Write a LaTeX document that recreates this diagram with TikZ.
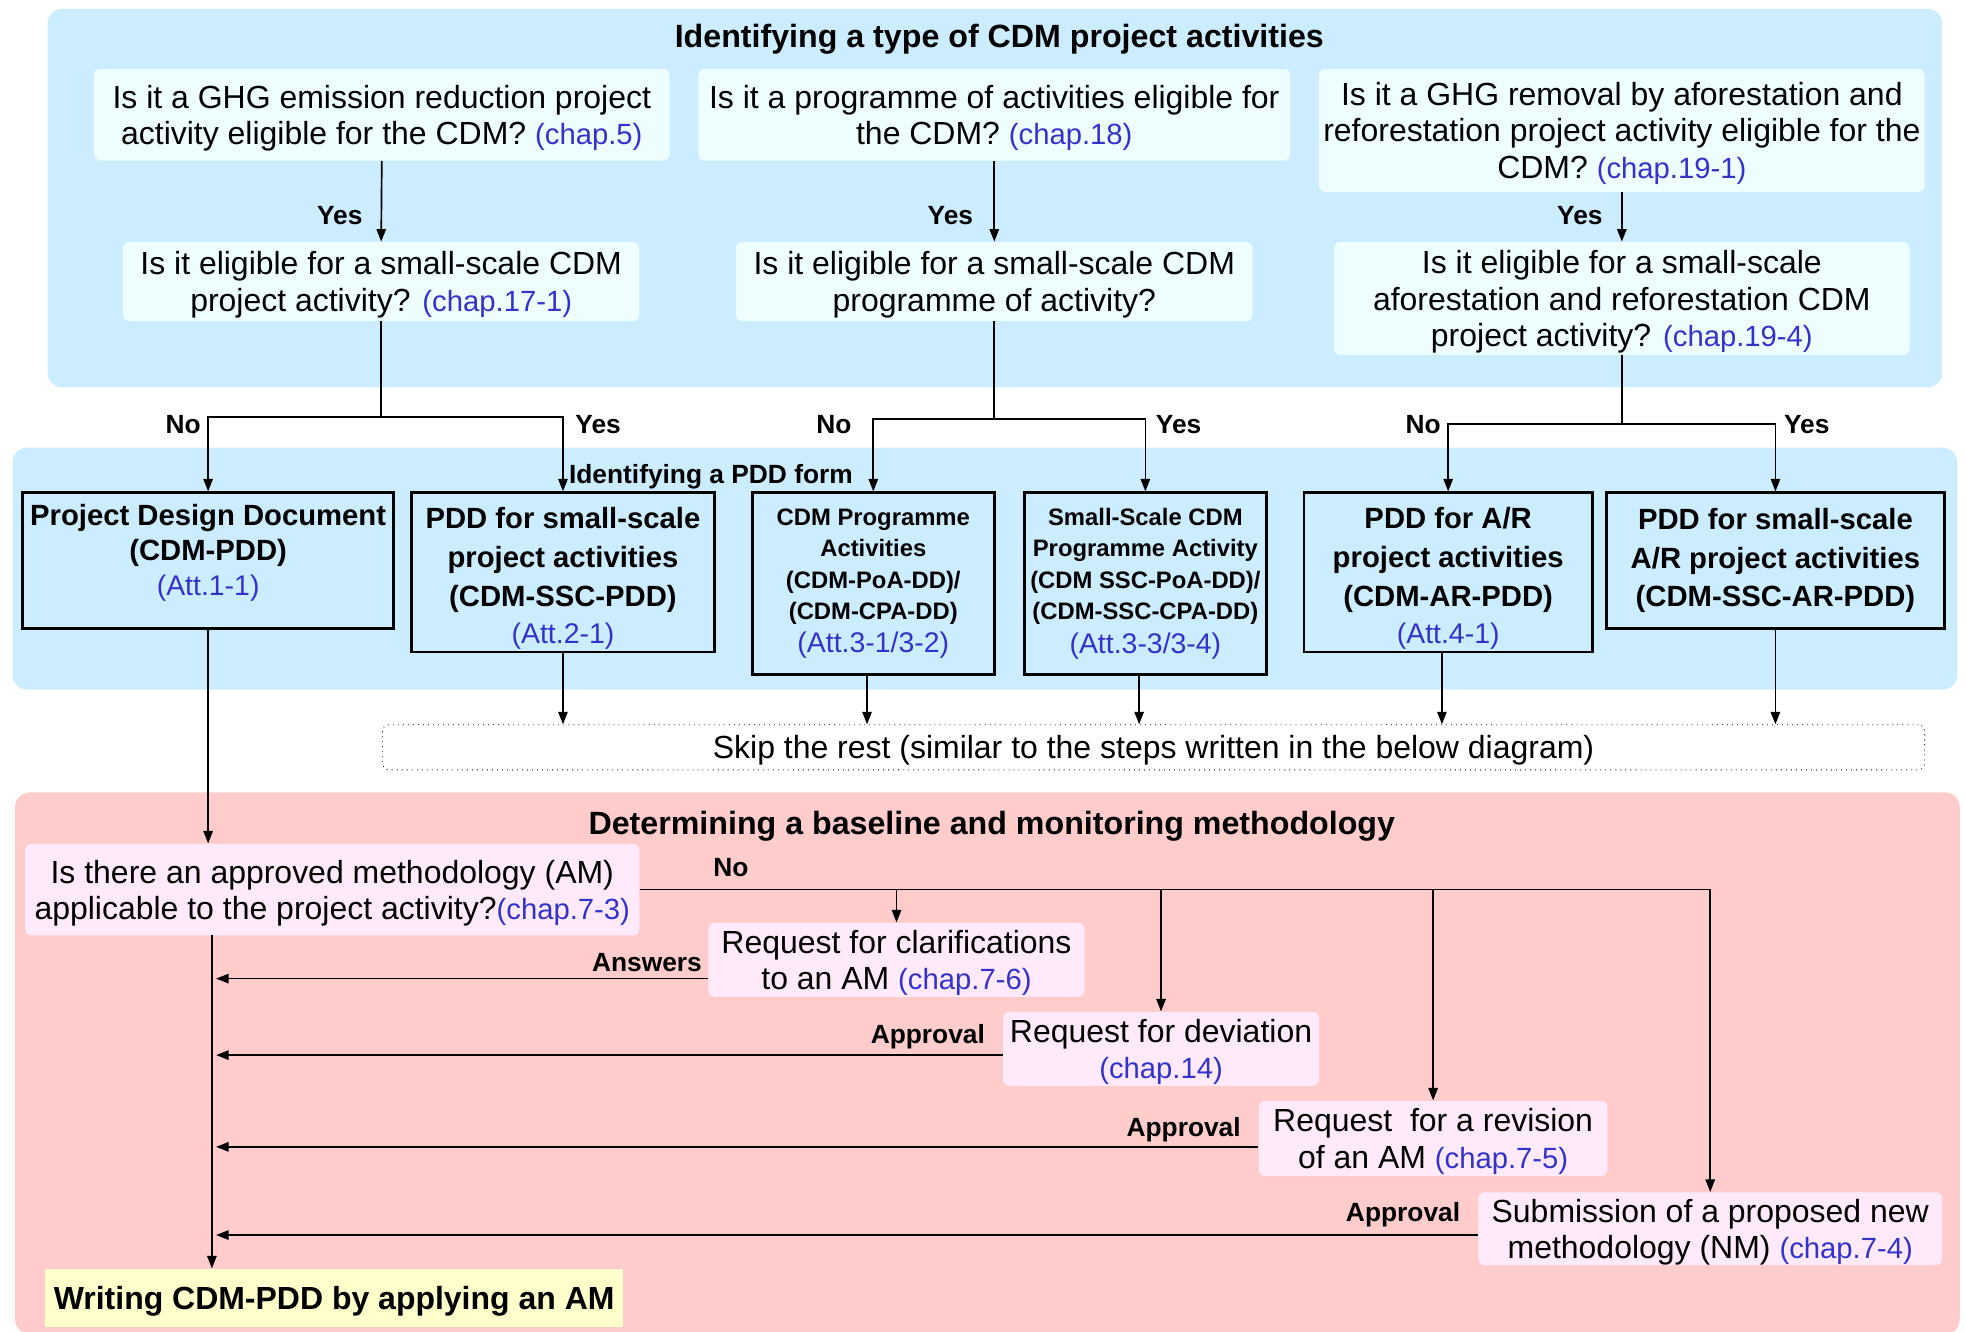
\documentclass[tikz,border=0pt]{standalone}
\usepackage{fontspec}
\setmainfont{Liberation Sans}
\usetikzlibrary{arrows.meta}
\definecolor{bandblue}{RGB}{204,236,255}
\definecolor{qcyan}{RGB}{238,254,255}
\definecolor{bandpink}{RGB}{255,204,204}
\definecolor{qpink}{RGB}{255,234,252}
\definecolor{wyellow}{RGB}{255,255,204}
\definecolor{chapblue}{RGB}{51,51,204}
\newcommand{\ch}[1]{{\fontsize{14}{17.4}\selectfont\color{chapblue}#1}}
\newcommand{\att}[1]{{\mdseries\fontsize{13.6}{16}\selectfont\color{chapblue}#1}}
\begin{document}
\begin{tikzpicture}[x=0.6pt, y=-0.6pt,
	arr/.style={line width=0.8pt, -{Triangle[length=6pt,width=4.5pt]}},
	ln/.style={line width=0.8pt},
	qbox/.style={fill=qcyan, rounded corners=3pt, inner sep=1pt, text depth=0pt, align=center, font=\fontsize{15.3}{17.4}\selectfont},
	mbox/.style={fill=qpink, rounded corners=3pt, inner sep=1pt, text depth=0pt, align=center, font=\fontsize{15.3}{17.4}\selectfont},
	formbox/.style={draw, line width=1.3pt, inner sep=1pt, align=center},
	lbl/.style={font=\bfseries\fontsize{12.6}{14}\selectfont, inner sep=0pt},
	head/.style={font=\bfseries\fontsize{15.4}{17}\selectfont, inner sep=0pt}]
	\useasboundingbox (0,0) rectangle (1568,1062);
	\clip (0,0) rectangle (1568,1062);
	% backgrounds
	\fill[bandblue, rounded corners=7pt] (38,7) rectangle (1549,309);
	\fill[bandblue, rounded corners=7pt] (10,357) rectangle (1561,550);
	\fill[bandpink, rounded corners=7pt] (12,632) rectangle (1563,1064);
	\node[head] (t1) at (797,31) {Identifying a type of CDM project activities};
	\node[qbox, minimum width=275.4pt, minimum height=43.8pt] (q1) at (304.5,91.5) {Is it a GHG emission reduction project\\ activity eligible for the CDM? \ch{(chap.5)}};
	\node[qbox, minimum width=283.2pt, minimum height=43.8pt] (q2) at (793,91.5) {Is it a programme of activities eligible for\\ the CDM? \ch{(chap.18)}};
	\node[qbox, minimum width=289.8pt, minimum height=58.8pt] (q3) at (1293.5,104) {Is it a GHG removal by aforestation and\\ reforestation project activity eligible for the\\ CDM? \ch{(chap.19-1)}};
	\node[qbox, minimum width=247.2pt, minimum height=37.8pt] (q1b) at (304,224.5) {Is it eligible for a small-scale CDM\\ project activity? \ch{(chap.17-1)}};
	\node[qbox, minimum width=247.2pt, minimum height=37.8pt] (q2b) at (793,224.5) {Is it eligible for a small-scale CDM\\ programme of activity?};
	\node[qbox, minimum width=275.4pt, minimum height=54pt] (q3b) at (1293.5,238) {Is it eligible for a small-scale\\ aforestation and reforestation CDM\\ project activity? \ch{(chap.19-4)}};
	\draw[arr] (q1.south) -- (q1b.north);
	\draw[arr] (q2.south) -- (q2b.north);
	\draw[arr] (q3.south) -- (q3b.north);
	\node[lbl] (yes1) at (271,172) {Yes};
	\node[lbl] (yes2) at (758,172) {Yes};
	\node[lbl] (yes3) at (1260,172) {Yes};
	% PDD forms
	\node[lbl] (t2) at (567,380) {Identifying a PDD form};
	\node[formbox, minimum width=177.6pt, minimum height=64.8pt, font=\bfseries\fontsize{14}{16.8}\selectfont] (b1) at (166,447) {Project Design Document\\ (CDM-PDD)\\ \att{(Att.1-1)}\rule[-10pt]{0pt}{0pt}};
	\node[formbox, minimum width=145.2pt, minimum height=76.2pt, font=\bfseries\fontsize{14}{18.6}\selectfont] (b2) at (449,456.5) {\rule{0pt}{16pt}PDD for small-scale\\ project activities\\ (CDM-SSC-PDD)\\[-1pt] \att{(Att.2-1)}};
	\node[formbox, minimum width=115.8pt, minimum height=87pt, font=\bfseries\fontsize{11.4}{15}\selectfont] (b3) at (696.5,465.5) {CDM Programme\\ Activities\\ (CDM-PoA-DD)/\\ (CDM-CPA-DD)\\[1pt] \att{(Att.3-1/3-2)}};
	\node[formbox, minimum width=115.8pt, minimum height=87pt, font=\bfseries\fontsize{11.4}{15}\selectfont] (b4) at (913.5,465.5) {Small-Scale CDM\\ Programme Activity\\ (CDM SSC-PoA-DD)/\\ (CDM-SSC-CPA-DD)\\[1pt] \att{(Att.3-3/3-4)}};
	\node[formbox, minimum width=138pt, minimum height=76.2pt, font=\bfseries\fontsize{14}{18.6}\selectfont] (b5) at (1155,456.5) {\rule{0pt}{16pt}PDD for A/R\\ project activities\\ (CDM-AR-PDD)\\[-1pt] \att{(Att.4-1)}};
	\node[formbox, minimum width=162pt, minimum height=64.8pt, font=\bfseries\fontsize{14}{18.6}\selectfont] (b6) at (1416,447) {PDD for small-scale\\ A/R project activities\\ (CDM-SSC-AR-PDD)};
	\draw[arr] (q1b.south) -- ++(0,76) -| (b1.north);
	\draw[arr] (q1b.south) -- ++(0,76) -| (b2.north);
	\draw[arr] (q2b.south) -- ++(0,78) -| (b3.north);
	\draw[arr] (q2b.south) -- ++(0,78) -| (b4.north);
	\draw[arr] (q3b.south) -- ++(0,55) -| (b5.north);
	\draw[arr] (q3b.south) -- ++(0,55) -| (b6.north);
	\node[lbl] (no1) at (146,339) {No};
	\node[lbl] (yes4) at (477,339) {Yes};
	\node[lbl] (no2) at (665,339) {No};
	\node[lbl] (yes5) at (940,339) {Yes};
	\node[lbl] (no3) at (1135,339) {No};
	\node[lbl] (yes6) at (1441,339) {Yes};
	\node[draw, dotted, fill=white, rounded corners=3pt, text depth=0pt, minimum width=738pt, minimum height=21.6pt, font=\fontsize{15.3}{17.4}\selectfont] (skip) at (920,596) {Skip the rest (similar to the steps written in the below diagram)};
	\draw[arr] (b2.south) -- (b2.south |- skip.north);
	\draw[arr] ([xshift=-3pt]b3.south) -- ([xshift=-3pt]b3.south |- skip.north);
	\draw[arr] ([xshift=-3pt]b4.south) -- ([xshift=-3pt]b4.south |- skip.north);
	\draw[arr] ([xshift=-3pt]b5.south) -- ([xshift=-3pt]b5.south |- skip.north);
	\draw[arr] (b6.south) -- (b6.south |- skip.north);
	% methodology
	\node[head] (t3) at (791,659) {Determining a baseline and monitoring methodology};
	\node[mbox, minimum width=294pt, minimum height=43.8pt] (q4) at (265,709.5) {Is there an approved methodology (AM)\\ applicable to the project activity?\ch{(chap.7-3)}};
	\node[mbox, minimum width=180pt, minimum height=35.4pt] (r1) at (715,765.5) {Request for clarifications\\ to an AM \ch{(chap.7-6)}};
	\node[mbox, minimum width=151.2pt, minimum height=35.4pt] (r2) at (926,836.5) {Request for deviation\\ \ch{(chap.14)}};
	\node[mbox, minimum width=166.8pt, minimum height=36pt] (r3) at (1143,908) {Request~ for a revision\\ of an AM \ch{(chap.7-5)}};
	\node[mbox, minimum width=222pt, minimum height=34.8pt] (r4) at (1364,980) {Submission of a proposed new\\ methodology (NM) \ch{(chap.7-4)}};
	\node[fill=wyellow, inner sep=1pt, text depth=0pt, minimum width=276.6pt, minimum height=27.6pt, font=\bfseries\fontsize{15.3}{17}\selectfont] (w) at (266.5,1035) {Writing CDM-PDD by applying an AM};
	\draw[arr] (b1.south) -- (b1.south |- q4.north);
	\coordinate (spine) at (169,746);
	\draw[arr] (spine) -- (spine |- w.north);
	\draw[arr] (q4.east) -| (r1.north);
	\draw[arr] (q4.east) -| (r2.north);
	\draw[arr] (q4.east) -| (r3.north);
	\draw[arr] (q4.east) -| (r4.north);
	\node[lbl] (no4) at (583,692) {No};
	\draw[arr] ([yshift=-9pt]r1.west) -- ([xshift=2pt,yshift=-9pt]spine |- r1.west);
	\draw[arr] ([yshift=-3pt]r2.west) -- ([xshift=2pt,yshift=-3pt]spine |- r2.west);
	\draw[arr] ([yshift=-4pt]r3.west) -- ([xshift=2pt,yshift=-4pt]spine |- r3.west);
	\draw[arr] ([yshift=-3pt]r4.west) -- ([xshift=2pt,yshift=-3pt]spine |- r4.west);
	\node[lbl] (ans) at (516,768) {Answers};
	\node[lbl] (ok1) at (740,827) {Approval};
	\node[lbl] (ok2) at (944,901) {Approval};
	\node[lbl] (ok3) at (1119,969) {Approval};
\end{tikzpicture}
\end{document}
